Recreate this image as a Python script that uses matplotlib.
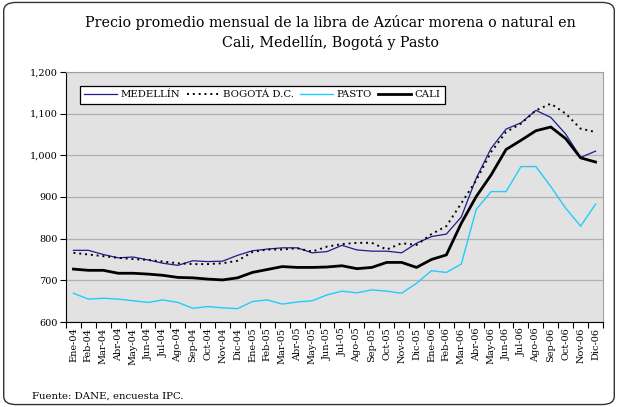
import matplotlib
matplotlib.use("Agg")
import matplotlib.pyplot as plt
from matplotlib.patches import FancyBboxPatch
import numpy as np

months = ["Ene-04","Feb-04","Mar-04","Abr-04","May-04","Jun-04","Jul-04","Ago-04","Sep-04","Oct-04","Nov-04","Dic-04",
          "Ene-05","Feb-05","Mar-05","Abr-05","May-05","Jun-05","Jul-05","Ago-05","Sep-05","Oct-05","Nov-05","Dic-05",
          "Ene-06","Feb-06","Mar-06","Abr-06","May-06","Jun-06","Jul-06","Ago-06","Sep-06","Oct-06","Nov-06","Dic-06"]

medellin = [772, 772, 762, 754, 756, 749, 741, 736, 747, 745, 746, 760,
            771, 775, 778, 778, 766, 769, 784, 773, 770, 770, 766, 789,
            805, 811, 852, 945, 1017, 1063, 1078, 1108, 1091, 1051, 995, 1010]
bogota = [766, 762, 758, 754, 751, 749, 745, 741, 739, 739, 741, 747,
          768, 774, 774, 777, 769, 781, 787, 790, 790, 774, 789, 785,
          811, 830, 885, 940, 1008, 1056, 1076, 1108, 1124, 1100, 1064, 1056]
pasto = [669, 655, 657, 655, 651, 647, 653, 647, 633, 637, 634, 632,
         649, 653, 643, 648, 651, 665, 674, 670, 677, 674, 669, 693,
         723, 719, 739, 870, 913, 913, 973, 973, 925, 873, 830, 883]
cali = [727, 724, 724, 717, 717, 715, 712, 707, 706, 703, 701, 706,
        719, 726, 733, 731, 731, 732, 735, 728, 731, 743, 743, 731,
        750, 761, 837, 901, 953, 1014, 1036, 1059, 1068, 1040, 994, 984]

yticks = [600, 700, 800, 900, 1000, 1100, 1200]

plt.rcParams["font.family"] = ["DejaVu Serif"]

fig = plt.figure(figsize=(6.18, 4.07), dpi=100)
frame = FancyBboxPatch((0.006, 0.006), 0.988, 0.988, boxstyle="round,pad=0,rounding_size=0.02",
                       transform=fig.transFigure, facecolor="none", edgecolor="#333333",
                       linewidth=1.0, zorder=-5)
fig.patches.append(frame)

W, H = 618, 407
left, right, top, bottom = 66, 603, 72, 322
ax = fig.add_axes([left / W, 1 - bottom / H, (right - left) / W, (bottom - top) / H])
ax.set_facecolor("#e2e2e2")

x = np.arange(len(months))
ax.plot(x, medellin, color="#1c1c8c", lw=0.9, label="MEDELLÍN")
ax.plot(x, bogota, color="black", lw=1.4, ls=(0, (1, 2)), label="BOGOTÁ D.C.")
ax.plot(x, pasto, color="#22ccff", lw=1.0, label="PASTO")
ax.plot(x, cali, color="black", lw=2.0, label="CALI")

ax.set_xlim(-0.5, len(months) - 0.5)
ax.set_ylim(600, 1200)
ax.set_yticks(yticks)
ax.set_yticklabels([f"{v:,}" for v in yticks], fontsize=7)
ax.yaxis.grid(True, color="#b0b0b0", lw=0.9)
ax.set_axisbelow(True)

ax.set_xticks(x)
ax.set_xticklabels(months, rotation=90, fontsize=7)
ax.set_xticks(np.arange(-0.5, len(months), 1), minor=True)
ax.tick_params(axis="x", which="major", length=0, pad=4)
ax.tick_params(axis="x", which="minor", length=4, width=0.8, direction="out")
ax.tick_params(axis="y", length=4, width=0.8, direction="out", pad=2)

for s in ["top", "right"]:
    ax.spines[s].set_color("#a0a0a0")
for s in ["left", "bottom"]:
    ax.spines[s].set_color("black")

leg = ax.legend(loc="upper left", bbox_to_anchor=(0.016, 0.965), ncol=4, fontsize=7.3, frameon=True,
                fancybox=False, edgecolor="black", facecolor="white", framealpha=1,
                handlelength=3.2, handletextpad=0.4, columnspacing=0.6, borderpad=0.45)
leg.get_frame().set_linewidth(0.9)

fig.text(330 / W, 1 - 22 / H, "Precio promedio mensual de la libra de Azúcar morena o natural en",
         ha="center", va="center", fontsize=10.3)
fig.text(330 / W, 1 - 43 / H, "Cali, Medellín, Bogotá y Pasto", ha="center", va="center", fontsize=10.3)
fig.text(32 / W, 1 - 396 / H, "Fuente: DANE, encuesta IPC.", ha="left", va="center", fontsize=7.3)

fig.savefig("out.png", dpi=100)
